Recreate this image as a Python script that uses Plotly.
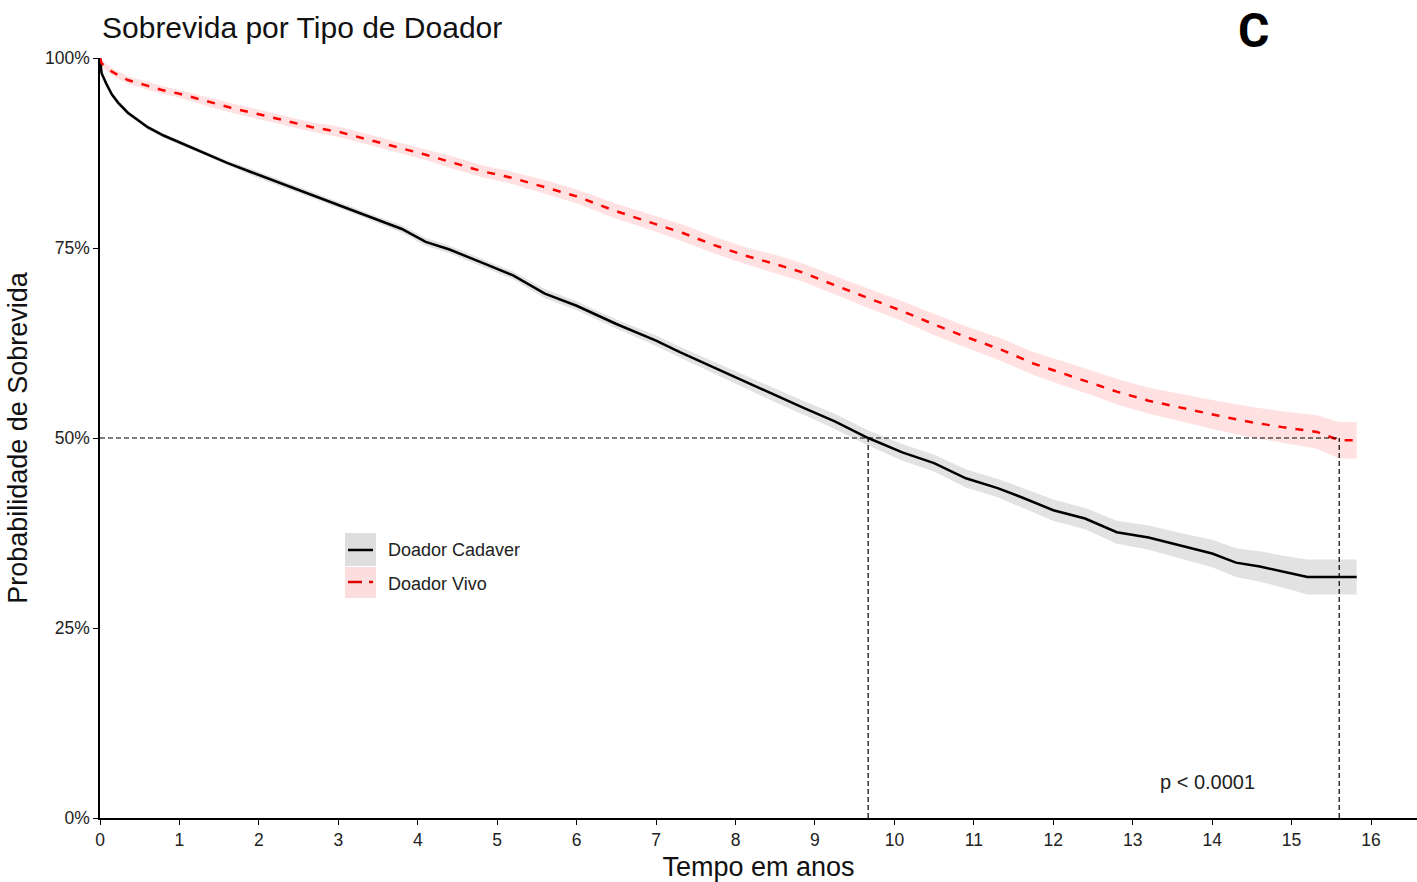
import plotly.graph_objects as go

# ---------------- data ----------------
cad_t = [0, 0.02, 0.08, 0.15, 0.23, 0.35, 0.48, 0.6, 0.8, 1.0, 1.3, 1.6, 1.9, 2.25, 2.6, 2.9,
         3.25, 3.5, 3.8, 4.1, 4.4, 4.8, 5.2, 5.6, 6.0, 6.5, 7.0, 7.3, 7.7, 8.1, 8.5, 8.85,
         9.25, 9.67, 10.1, 10.5, 10.9, 11.3, 11.6, 12.0, 12.4, 12.8, 13.2, 13.6, 14.0, 14.3,
         14.6, 14.9, 15.2, 15.82]
cad_s = [1.0, 0.980, 0.966, 0.952, 0.941, 0.928, 0.918, 0.909, 0.898, 0.889, 0.875, 0.862,
         0.850, 0.836, 0.823, 0.811, 0.797, 0.787, 0.775, 0.758, 0.748, 0.731, 0.714, 0.690,
         0.674, 0.650, 0.628, 0.613, 0.594, 0.575, 0.556, 0.540, 0.522, 0.500, 0.481, 0.467,
         0.447, 0.434, 0.422, 0.405, 0.394, 0.376, 0.369, 0.358, 0.348, 0.336, 0.331, 0.324,
         0.317, 0.317]
cad_ci = [0.0, 0.002, 0.003, 0.003, 0.003, 0.003, 0.003, 0.003, 0.003, 0.003, 0.003, 0.003,
          0.004, 0.004, 0.004, 0.004, 0.004, 0.004, 0.005, 0.005, 0.005, 0.005, 0.005, 0.006,
          0.006, 0.006, 0.007, 0.007, 0.008, 0.008, 0.009, 0.009, 0.010, 0.010, 0.011, 0.011,
          0.012, 0.012, 0.013, 0.014, 0.014, 0.015, 0.016, 0.017, 0.018, 0.019, 0.020, 0.021,
          0.023, 0.023]

viv_t = [0, 0.02, 0.15, 0.35, 0.55, 0.78, 1.0, 1.4, 1.7, 2.04, 2.35, 2.67, 3.0, 3.3, 3.7,
         4.09, 4.45, 4.81, 5.2, 5.64, 6.0, 6.48, 6.9, 7.33, 7.7, 8.12, 8.5, 8.84, 9.25, 9.67,
         10.1, 10.51, 10.9, 11.35, 11.75, 12.15, 12.5, 12.8, 13.2, 13.63, 14.05, 14.48, 14.9,
         15.32, 15.6, 15.82]
viv_s = [1.0, 0.993, 0.982, 0.971, 0.965, 0.958, 0.953, 0.941, 0.933, 0.925, 0.917, 0.909,
         0.903, 0.895, 0.884, 0.873, 0.862, 0.851, 0.842, 0.829, 0.818, 0.799, 0.785, 0.770,
         0.755, 0.740, 0.729, 0.718, 0.701, 0.684, 0.667, 0.649, 0.633, 0.616, 0.598, 0.584,
         0.572, 0.561, 0.549, 0.539, 0.530, 0.521, 0.514, 0.508, 0.497, 0.497]
viv_ci = [0.0, 0.004, 0.005, 0.005, 0.005, 0.005, 0.005, 0.006, 0.006, 0.006, 0.006, 0.006,
          0.007, 0.007, 0.007, 0.007, 0.008, 0.008, 0.008, 0.009, 0.009, 0.010, 0.010, 0.011,
          0.011, 0.011, 0.012, 0.012, 0.012, 0.013, 0.013, 0.014, 0.014, 0.015, 0.015, 0.016,
          0.016, 0.017, 0.017, 0.018, 0.019, 0.020, 0.021, 0.022, 0.024, 0.024]

cad_median = 9.67
viv_median = 15.6
x_ticks = list(range(0, 17))
y_ticks = [0, 0.25, 0.5, 0.75, 1.0]
y_labels = ["0%", "25%", "50%", "75%", "100%"]
series_names = ["Doador Cadaver", "Doador Vivo"]
p_text = "p < 0.0001"

# ---------------- figure ----------------
W, H = 1417, 882
ML, MR, MT, MB = 100, 0, 58, 64
PW, PH = W - ML - MR, H - MT - MB


def px(x):
    return (x - ML) / PW


def py(y):
    return (H - MB - y) / PH


fig = go.Figure()

GRAY_FILL = "rgba(160,160,160,0.30)"
PINK_FILL = "rgba(255,120,120,0.22)"

for t, s, ci, fillc in [(cad_t, cad_s, cad_ci, GRAY_FILL), (viv_t, viv_s, viv_ci, PINK_FILL)]:
    up = [min(1.0, a + b) for a, b in zip(s, ci)]
    lo = [a - b for a, b in zip(s, ci)]
    fig.add_trace(go.Scatter(x=t, y=up, mode="lines", line=dict(width=0),
                             showlegend=False, hoverinfo="skip"))
    fig.add_trace(go.Scatter(x=t, y=lo, mode="lines", line=dict(width=0),
                             fill="tonexty", fillcolor=fillc, showlegend=False,
                             hoverinfo="skip"))

fig.add_trace(go.Scatter(x=cad_t, y=cad_s, mode="lines", name=series_names[0],
                         line=dict(color="black", width=2.5), showlegend=False))
fig.add_trace(go.Scatter(x=viv_t, y=viv_s, mode="lines", name=series_names[1],
                         line=dict(color="#ff0000", width=2.5, dash="8px,9px"),
                         showlegend=False))

# median lines
med_style = dict(color="black", width=1.2, dash="5px,3px")
fig.add_shape(type="line", xref="x", yref="y", x0=0, x1=viv_median, y0=0.5, y1=0.5,
              line=med_style)
for m in [cad_median, viv_median]:
    fig.add_shape(type="line", xref="x", yref="y", x0=m, x1=m, y0=0, y1=0.5, line=med_style)

# manual legend (ggplot style keys)
keys = [(533, 566, "rgb(222,222,222)"), (567, 598, "rgb(253,222,222)")]
for (y0, y1, c) in keys:
    fig.add_shape(type="rect", xref="paper", yref="paper", x0=px(345), x1=px(376),
                  y0=py(y1), y1=py(y0), fillcolor=c, line=dict(width=0), layer="below")
fig.add_shape(type="line", xref="paper", yref="paper", x0=px(348), x1=px(373),
              y0=py(550), y1=py(550), line=dict(color="black", width=2.5))
fig.add_shape(type="line", xref="paper", yref="paper", x0=px(348), x1=px(362),
              y0=py(582), y1=py(582), line=dict(color="#e00000", width=2.5))
fig.add_shape(type="line", xref="paper", yref="paper", x0=px(369), x1=px(373),
              y0=py(582), y1=py(582), line=dict(color="#e00000", width=2.5))
for name, yy in zip(series_names, [550, 584]):
    fig.add_annotation(x=px(386), y=py(yy), xref="paper", yref="paper", text=name,
                       showarrow=False, xanchor="left", yanchor="middle",
                       font=dict(family="Liberation Sans, Arial", size=18, color="#222"))

# p-value
fig.add_annotation(x=px(1207), y=py(782), xref="paper", yref="paper", text=p_text,
                   showarrow=False, xanchor="center", yanchor="middle",
                   font=dict(family="Liberation Sans, Arial", size=20, color="#222"))

# title
fig.add_annotation(x=0, y=py(28), xref="paper", yref="paper", text="Sobrevida por Tipo de Doador",
                   showarrow=False, xanchor="left", yanchor="middle",
                   font=dict(family="Liberation Sans, Arial", size=30, color="#111"))
# panel letter
fig.add_annotation(x=px(1253), y=py(0), xref="paper", yref="paper", text="<b>C</b>",
                   showarrow=False, xanchor="center", yanchor="top",
                   font=dict(family="Roboto", size=48, color="black"))

fig.update_layout(
    width=W, height=H,
    margin=dict(l=ML, r=MR, t=MT, b=MB, pad=0),
    paper_bgcolor="white", plot_bgcolor="white",
    font=dict(family="Liberation Sans, Arial", color="#222"),
    xaxis=dict(range=[0, PW / 1271 * 16], tickvals=x_ticks, ticktext=[str(v) for v in x_ticks],
               showgrid=False, zeroline=False, showline=True, linecolor="black", linewidth=1.5,
               ticks="outside", ticklen=5, tickwidth=1.2, tickcolor="black",
               tickfont=dict(size=17.5, color="#222"),
               title=dict(text="Tempo em anos", font=dict(size=27, color="#111"), standoff=8)),
    yaxis=dict(range=[0, 1], tickvals=y_ticks, ticktext=y_labels,
               showgrid=False, zeroline=False, showline=True, linecolor="black", linewidth=1.5,
               ticks="outside", ticklen=5, tickwidth=1.2, tickcolor="black",
               tickfont=dict(size=17.5, color="#222"),
               title=dict(text="Probabilidade de Sobrevida", font=dict(size=27, color="#111"),
                          standoff=10)),
)

fig.write_html("out.html")
